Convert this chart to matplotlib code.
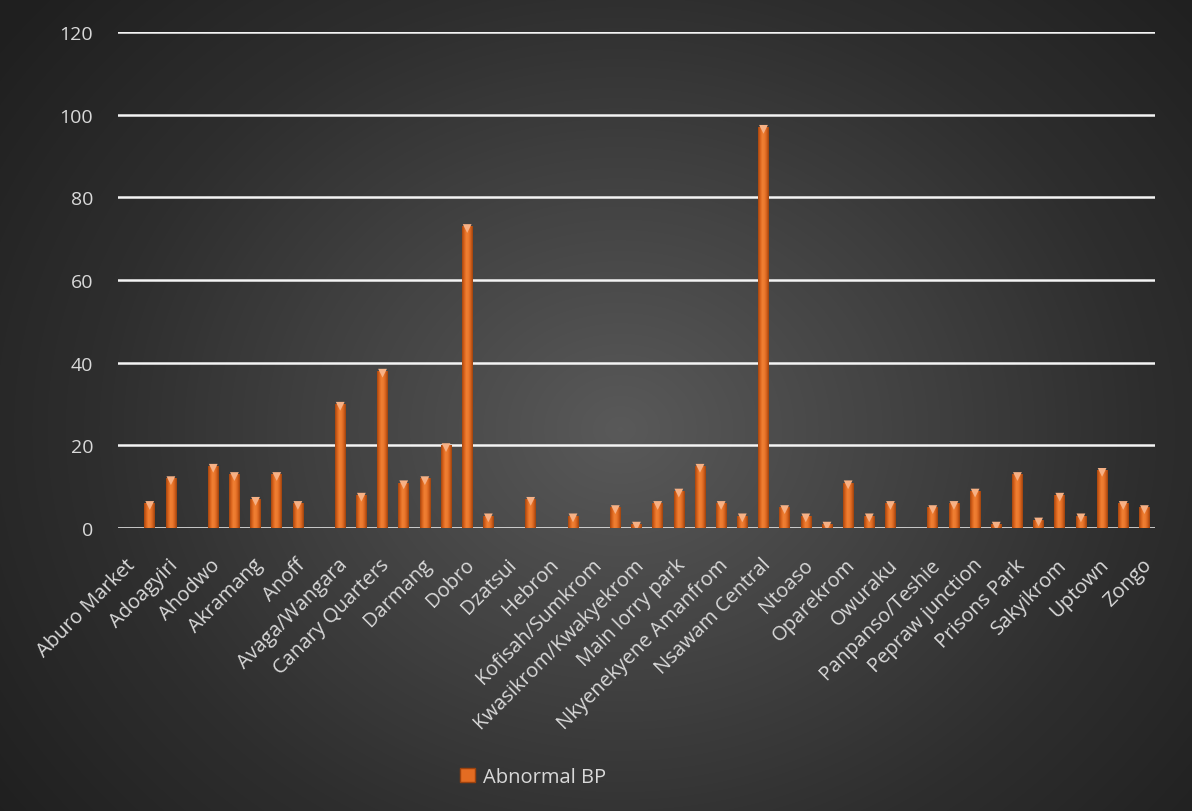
import matplotlib.pyplot as plt
import matplotlib.transforms as mtransforms
import numpy as np
from matplotlib.colors import LinearSegmentedColormap
from matplotlib.patches import Patch

# names printed on the axis (every other community)
labels = ["Aburo Market", "Adoagyiri", "Ahodwo", "Akramang", "Anoff", "Avaga/Wangara",
          "Canary Quarters", "Darmang", "Dobro", "Dzatsui", "Hebron", "Kofisah/Sumkrom",
          "Kwasikrom/Kwakyekrom", "Main lorry park", "Nkyenekyene Amanfrom", "Nsawam Central",
          "Ntoaso", "Oparekrom", "Owuraku", "Panpanso/Teshie", "Pepraw junction",
          "Prisons Park", "Sakyikrom", "Uptown", "Zongo"]

# one value per community (49 of them)
abnormal_bp = [0, 6, 12, 0, 15, 13, 7, 13, 6, 0,
               30, 8, 38, 11, 12, 20, 73, 3, 0, 7,
               0, 3, 0, 5, 1, 6, 9, 15, 6, 3,
               97, 5, 3, 1, 11, 3, 6, 0, 5, 6,
               9, 1, 13, 2, 8, 3, 14, 6, 5]

yticks = [0, 20, 40, 60, 80, 100, 120]

TXT = '#d9d9d9'
ORANGE = '#e46c22'


def background(fig):
    bg = fig.add_axes([0, 0, 1, 1], zorder=-10)
    h, w = 812, 1192
    yy, xx = np.mgrid[0:h, 0:w]
    r = np.sqrt(((xx - 620) / 1.0) ** 2 + ((yy - 430) / 0.85) ** 2)
    r = np.clip(r / 780, 0, 1)
    cmap = LinearSegmentedColormap.from_list('bg', ['#595959', '#444444', '#2e2e2e', '#1f1f1f'])
    bg.imshow(r, cmap=cmap, vmin=0, vmax=1, aspect='auto', interpolation='bilinear')
    bg.set_axis_off()


def draw_bars(ax, x, vals, width):
    cyl = LinearSegmentedColormap.from_list(
        'cyl', ['#a5460f', '#d9621c', '#f08034', '#ec7a2e', '#d3601c', '#9c420e'])
    grad = np.linspace(0, 1, 64).reshape(1, -1)
    bars = ax.bar(x, vals, width=width, color=ORANGE, edgecolor='none', zorder=3)
    for b, v in zip(bars, vals):
        if v <= 0:
            continue
        x0 = b.get_x()
        im = ax.imshow(grad, cmap=cyl, extent=[x0, x0 + width, 0, v],
                       aspect='auto', zorder=3.5, interpolation='bilinear')
        im.set_clip_path(b)
    xs = [xi for xi, v in zip(x, vals) if v > 0]
    tops = [v - 0.55 for v in vals if v > 0]
    ax.scatter(xs, tops, marker='v', s=40, color='#f7b185', edgecolors='none', zorder=4)


def main():
    plt.rcParams['font.family'] = ['Open Sans', 'DejaVu Sans']
    fig = plt.figure(figsize=(11.92, 8.12), dpi=100)
    background(fig)

    ax = fig.add_axes([118 / 1192, 1 - 529 / 812, (1155 - 118) / 1192, (529 - 33) / 812])
    ax.patch.set_alpha(0)

    x = np.arange(len(abnormal_bp))
    draw_bars(ax, x, abnormal_bp, 0.5)

    ax.set_xlim(-0.5, len(abnormal_bp) - 0.5)
    ax.set_ylim(0, 120)
    ax.set_yticks(yticks)
    ax.yaxis.grid(True, color='#f4f4f4', lw=1.8, zorder=1)
    ax.set_axisbelow(True)
    for s in ax.spines.values():
        s.set_visible(False)

    ax.set_xticks(x[::2])
    ax.set_xticklabels(labels, rotation=45, ha='right', va='top', rotation_mode='anchor')
    ax.tick_params(axis='x', length=0, pad=14, labelsize=14.5, labelcolor=TXT)
    ax.tick_params(axis='y', length=0, pad=18, labelsize=14, labelcolor=TXT)
    shift = mtransforms.ScaledTranslation(-0.03, -0.07, fig.dpi_scale_trans)
    for lab in ax.get_xticklabels():
        lab.set_transform(lab.get_transform() + shift)

    fig.legend(handles=[Patch(facecolor=ORANGE, edgecolor='#9c420e')], labels=['Abnormal BP'],
               loc='center', bbox_to_anchor=(533 / 1192, 1 - 778 / 812), frameon=False,
               handlelength=0.75, handleheight=0.75, handletextpad=0.35,
               fontsize=14.5, labelcolor=TXT)

    fig.savefig('out.png', dpi=100)


if __name__ == "__main__":
    main()
